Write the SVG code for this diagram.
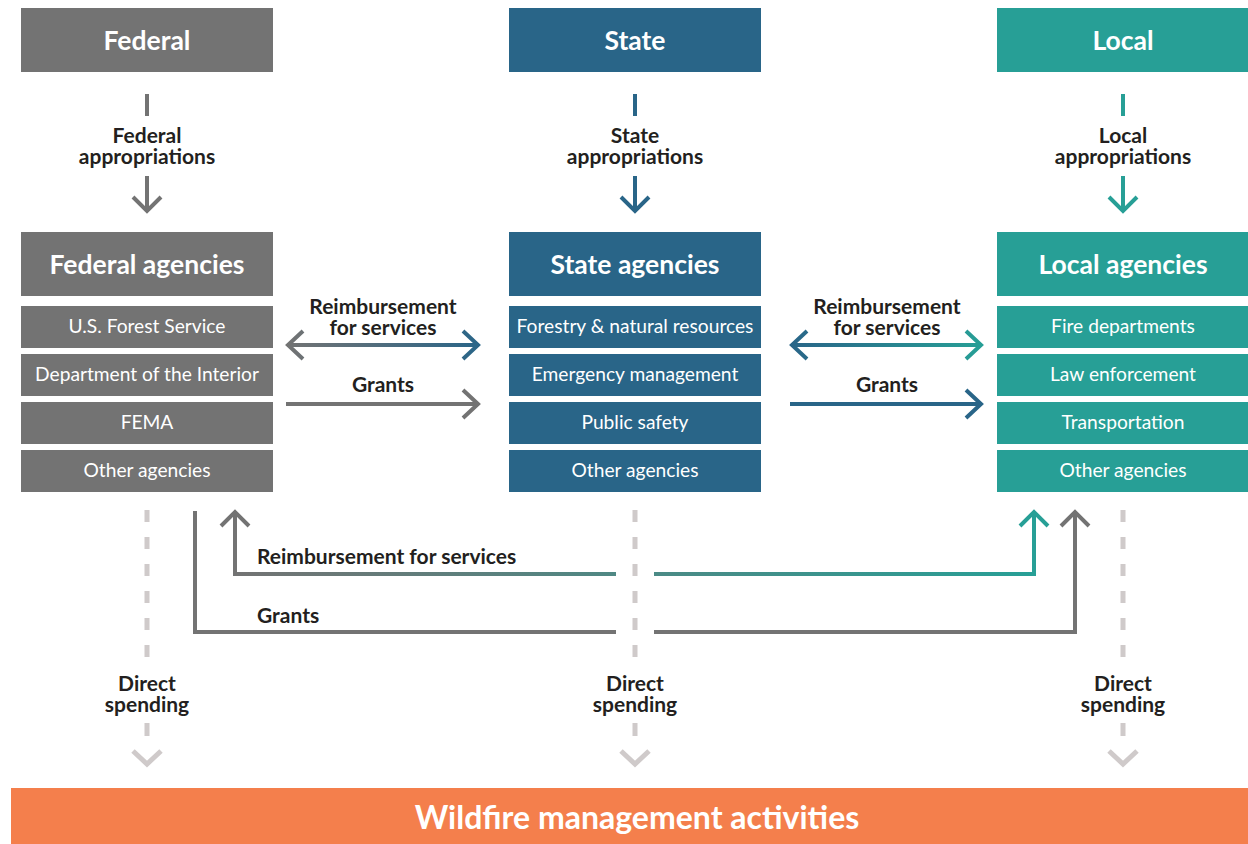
<svg xmlns="http://www.w3.org/2000/svg" width="1248" height="844" viewBox="0 0 1248 844">
<style>
.fed{fill:#737373}.sta{fill:#296588}.loc{fill:#279f96}
.hdr{font-family:Lato,"Liberation Sans",sans-serif;font-weight:700;font-size:26.5px;fill:#fff;text-anchor:middle}
.row{font-family:Lato,"Liberation Sans",sans-serif;font-size:19.2px;fill:#fff;text-anchor:middle}
.lbl{font-family:Lato,"Liberation Sans",sans-serif;font-weight:700;font-size:21px;fill:#231f20;text-anchor:middle}
.lbs{font-family:Lato,"Liberation Sans",sans-serif;font-weight:700;font-size:21px;fill:#231f20;text-anchor:start}
.ln{fill:none;stroke-width:4}
.ds{fill:none;stroke:#cfcaca;stroke-width:5}
</style>
<defs>
<linearGradient id="gFS" gradientUnits="userSpaceOnUse" x1="286" y1="0" x2="480" y2="0"><stop offset="0" stop-color="#737373"/><stop offset="1" stop-color="#296588"/></linearGradient>
<linearGradient id="gSL" gradientUnits="userSpaceOnUse" x1="790" y1="0" x2="983" y2="0"><stop offset="0" stop-color="#296588"/><stop offset="1" stop-color="#279f96"/></linearGradient>
<linearGradient id="gB" gradientUnits="userSpaceOnUse" x1="235" y1="0" x2="1034" y2="0"><stop offset="0" stop-color="#737373"/><stop offset="1" stop-color="#279f96"/></linearGradient>
</defs>

<g id="federal"><rect class="fed" x="21" y="8" width="252" height="64"/><text class="hdr" x="147" y="50">Federal</text></g>
<g id="state"><rect class="sta" x="509" y="8" width="252" height="64"/><text class="hdr" x="635" y="50">State</text></g>
<g id="local"><rect class="loc" x="997" y="8" width="252" height="64"/><text class="hdr" x="1123" y="50">Local</text></g>

<g id="federal-agencies">
<rect class="fed" x="21" y="232" width="252" height="64"/><text class="hdr" x="147" y="274">Federal agencies</text>
<rect class="fed" x="21" y="306" width="252" height="42"/><text class="row" x="147" y="333">U.S. Forest Service</text>
<rect class="fed" x="21" y="354" width="252" height="42"/><text class="row" x="147" y="381">Department of the Interior</text>
<rect class="fed" x="21" y="402" width="252" height="42"/><text class="row" x="147" y="429">FEMA</text>
<rect class="fed" x="21" y="450" width="252" height="42"/><text class="row" x="147" y="477">Other agencies</text>
</g>
<g id="state-agencies">
<rect class="sta" x="509" y="232" width="252" height="64"/><text class="hdr" x="635" y="274">State agencies</text>
<rect class="sta" x="509" y="306" width="252" height="42"/><text class="row" x="635" y="333">Forestry &amp; natural resources</text>
<rect class="sta" x="509" y="354" width="252" height="42"/><text class="row" x="635" y="381">Emergency management</text>
<rect class="sta" x="509" y="402" width="252" height="42"/><text class="row" x="635" y="429">Public safety</text>
<rect class="sta" x="509" y="450" width="252" height="42"/><text class="row" x="635" y="477">Other agencies</text>
</g>
<g id="local-agencies">
<rect class="loc" x="997" y="232" width="252" height="64"/><text class="hdr" x="1123" y="274">Local agencies</text>
<rect class="loc" x="997" y="306" width="252" height="42"/><text class="row" x="1123" y="333">Fire departments</text>
<rect class="loc" x="997" y="354" width="252" height="42"/><text class="row" x="1123" y="381">Law enforcement</text>
<rect class="loc" x="997" y="402" width="252" height="42"/><text class="row" x="1123" y="429">Transportation</text>
<rect class="loc" x="997" y="450" width="252" height="42"/><text class="row" x="1123" y="477">Other agencies</text>
</g>

<g id="wildfire"><rect x="11" y="788" width="1237" height="56" fill="#f47f4c"/><text x="637" y="829" font-family="Lato,'Liberation Sans',sans-serif" font-weight="700" font-size="32" fill="#fff" text-anchor="middle">Wildfire management activities</text></g>

<g id="connectors">
<path class="ln" stroke="#737373" d="M147 94V116M147 176V211M133 197L147 211L161 197"/>
<path class="ln" stroke="#296588" d="M635 94V116M635 176V211M621 197L635 211L649 197"/>
<path class="ln" stroke="#279f96" d="M1123 94V116M1123 176V211M1109 197L1123 211L1137 197"/>
<text class="lbl" x="147" y="143">Federal</text><text class="lbl" x="147" y="164">appropriations</text>
<text class="lbl" x="635" y="143">State</text><text class="lbl" x="635" y="164">appropriations</text>
<text class="lbl" x="1123" y="143">Local</text><text class="lbl" x="1123" y="164">appropriations</text>

<path class="ln" stroke="url(#gFS)" d="M303 331L288 345L303 359M288 345H478M463 331L478 345L463 359"/>
<path class="ln" stroke="#737373" d="M286 404H478M463 390L478 404L463 418"/>
<text class="lbl" x="383" y="314">Reimbursement</text><text class="lbl" x="383" y="335">for services</text>
<text class="lbl" x="383" y="392">Grants</text>

<path class="ln" stroke="url(#gSL)" d="M807 331L792 345L807 359M792 345H981M966 331L981 345L966 359"/>
<path class="ln" stroke="#296588" d="M790 404H981M966 390L981 404L966 418"/>
<text class="lbl" x="887" y="314">Reimbursement</text><text class="lbl" x="887" y="335">for services</text>
<text class="lbl" x="887" y="392">Grants</text>

<path class="ln" stroke="#737373" d="M235 574V512M221 526L235 512L249 526"/>
<path class="ln" stroke="url(#gB)" d="M233 574H616M654 574H1034"/>
<path class="ln" stroke="#279f96" d="M1034 576V512M1020 526L1034 512L1048 526"/>
<text class="lbs" x="257" y="564">Reimbursement for services</text>
<path class="ln" stroke="#737373" d="M195 511V632H616M654 632H1075V512M1061 526L1075 512L1089 526"/>
<text class="lbs" x="257" y="623">Grants</text>

<g>
<path class="ds" d="M147 510V657" stroke-dasharray="12 15"/><path class="ds" d="M147 723V736M133 751L147 764L161 751"/>
<path class="ds" d="M635 510V657" stroke-dasharray="12 15"/><path class="ds" d="M635 723V736M621 751L635 764L649 751"/>
<path class="ds" d="M1123 510V657" stroke-dasharray="12 15"/><path class="ds" d="M1123 723V736M1109 751L1123 764L1137 751"/>
</g>
<text class="lbl" x="147" y="691">Direct</text><text class="lbl" x="147" y="712">spending</text>
<text class="lbl" x="635" y="691">Direct</text><text class="lbl" x="635" y="712">spending</text>
<text class="lbl" x="1123" y="691">Direct</text><text class="lbl" x="1123" y="712">spending</text>
</g>
</svg>
